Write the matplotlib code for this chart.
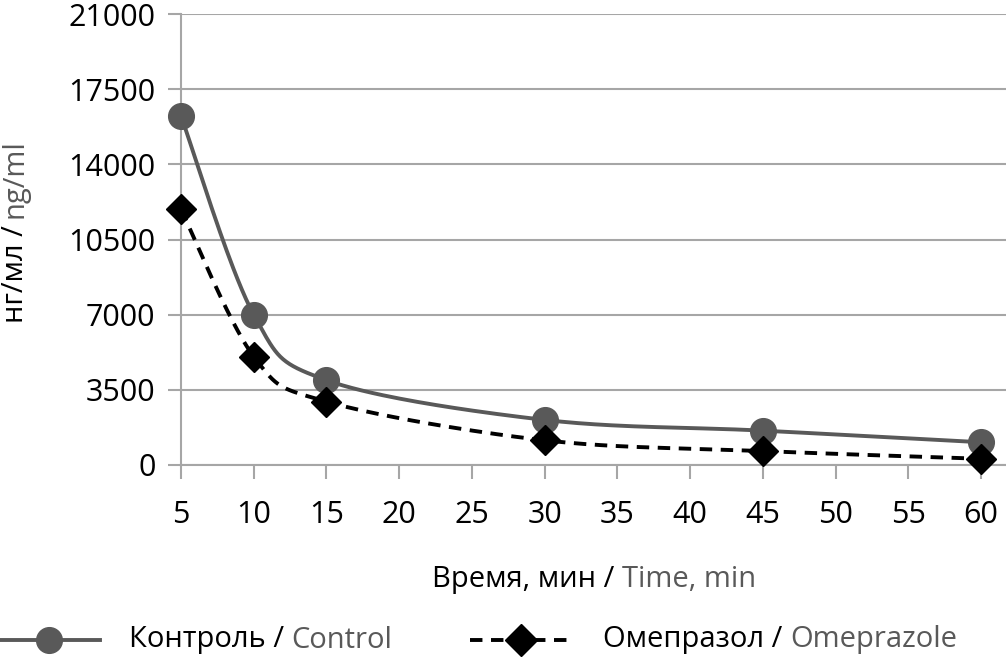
import numpy as np
import matplotlib as mpl
mpl.use('Agg')
import matplotlib.pyplot as plt
from matplotlib.lines import Line2D

plt.rcParams['font.family'] = ['Open Sans', 'DejaVu Sans']

time_min = [5, 10, 15, 30, 45, 60]
control = [16250, 7000, 3950, 2100, 1600, 1060]
omeprazole = [11900, 5050, 2950, 1150, 650, 290]
yticks = [0, 3500, 7000, 10500, 14000, 17500, 21000]
xticks = list(range(5, 61, 5))

GRID = '#a6a6a6'
GRAY = '#595959'
FS = 22      # tick labels
LFS = 21     # axis titles and legend
LW = 2.8
DASH = (0, (3.2, 2.2))

W, H = 1006, 657
fig = plt.figure(figsize=(W / 100, H / 100), dpi=100)
ax = fig.add_axes([181 / W, 1 - 465 / H, (W - 181) / W, (465 - 14) / H])
ax.set_xlim(5, 60 + 25 / (800 / 55))
ax.set_ylim(0, 21000)


def smooth(ax, xs, ys, n=40):
    # excel-like smoothed line (bezier through points, in display space)
    pts = ax.transData.transform(np.column_stack([xs, ys]))
    ext = np.vstack([pts[0], pts, pts[-1]])
    out = [pts[0]]
    t = np.linspace(0, 1, n)[1:, None]
    for i in range(len(pts) - 1):
        p0, p1 = ext[i + 1], ext[i + 2]
        c1 = p0 + (ext[i + 2] - ext[i]) / 6
        c2 = p1 - (ext[i + 3] - ext[i + 1]) / 6
        seg = (1 - t) ** 3 * p0 + 3 * (1 - t) ** 2 * t * c1 + 3 * (1 - t) * t ** 2 * c2 + t ** 3 * p1
        out.extend(seg)
    out = ax.transData.inverted().transform(np.array(out))
    return out[:, 0], out[:, 1]


cx, cy = smooth(ax, time_min, control)
ox, oy = smooth(ax, time_min, omeprazole)
ax.plot(cx, cy, color=GRAY, lw=LW, clip_on=False, zorder=3)
ax.plot(time_min, control, 'o', color=GRAY, ms=18.5, clip_on=False, zorder=4)
ax.plot(ox, oy, color='black', lw=LW, ls=DASH, clip_on=False, zorder=3)
ax.plot(time_min, omeprazole, 'D', color='black', ms=15, clip_on=False, zorder=4)

ax.set_yticks(yticks)
ax.set_xticks(xticks)
ax.yaxis.grid(True, color=GRID, lw=1.5)
ax.set_axisbelow(True)
for s in ['top', 'right']:
    ax.spines[s].set_visible(False)
for s in ['left', 'bottom']:
    ax.spines[s].set_color(GRID)
    ax.spines[s].set_linewidth(1.5)
ax.tick_params(axis='y', length=9.4, width=1.5, color=GRID, labelsize=FS, pad=9)
ax.tick_params(axis='x', length=10, width=1.5, color=GRID, labelsize=FS, pad=15)

# x label, two colours
t1 = fig.text(432 / W, 1 - 587 / H, 'Время, мин / ', fontsize=LFS, color='black', ha='left', va='baseline')
ax.annotate('Time, min', xy=(1, 0), xycoords=t1, fontsize=LFS, color=GRAY, ha='left', va='bottom')

# y label, two colours
t2 = fig.text(1 / W, 1 - 323 / H, 'нг/мл / ', fontsize=LFS, color='black', rotation=90, ha='left', va='bottom')
ax.annotate('ng/ml', xy=(0, 1), xycoords=t2, fontsize=LFS, color=GRAY, rotation=90, ha='left', va='bottom')

# legend
ly = 1 - 640 / H
fig.add_artist(Line2D([0, 49 / W, 100 / W], [ly, ly, ly], transform=fig.transFigure, color=GRAY, lw=LW,
                      marker='o', ms=18.5, markevery=[1]))
fig.add_artist(Line2D([470 / W, 521 / W, 575 / W], [ly, ly, ly], transform=fig.transFigure, color='black', lw=LW,
                      ls=DASH, marker='D', ms=16, markevery=[1]))
l1 = fig.text(129 / W, ly, 'Контроль / ', fontsize=LFS, color='black', ha='left', va='center')
ax.annotate('Control', xy=(1, 0), xycoords=l1, fontsize=LFS, color=GRAY, ha='left', va='bottom')
l2 = fig.text(603 / W, ly, 'Омепразол / ', fontsize=LFS, color='black', ha='left', va='center')
ax.annotate('Omeprazole', xy=(1, 0), xycoords=l2, fontsize=LFS, color=GRAY, ha='left', va='bottom')

plt.savefig('out.png', dpi=100)
